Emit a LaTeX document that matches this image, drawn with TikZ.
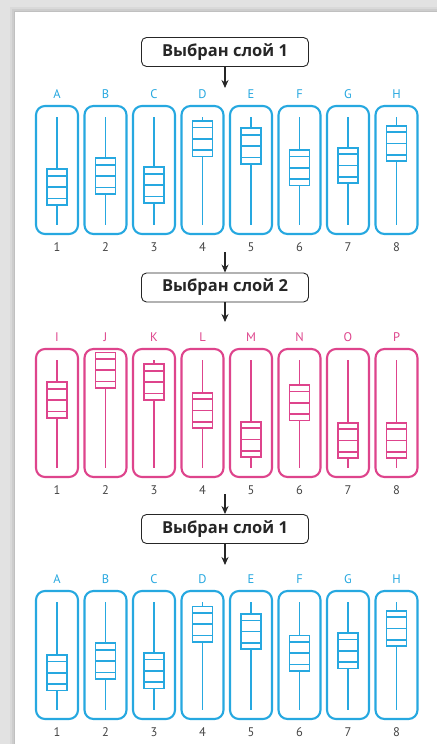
\documentclass[tikz,border=0pt]{standalone}
\usepackage{fontspec}
\setmainfont{Open Sans}
\newfontfamily\lblfont{PT Sans}
\usetikzlibrary{arrows.meta}
\definecolor{fblue}{RGB}{38,168,224}
\definecolor{fpink}{RGB}{222,68,140}
\definecolor{numgray}{RGB}{70,70,70}
\definecolor{bggray}{RGB}{226,226,226}
\tikzset{
  faderbox/.style={draw, rounded corners=9pt, minimum width=42pt, minimum height=128pt, line width=2.1pt, inner sep=0pt},
  track/.style={line width=1.7pt},
  knob/.style={line width=1.7pt, fill=white},
  knobline/.style={line width=1.6pt},
  lettertext/.style={font=\lblfont\fontsize{12.5}{14}\selectfont, inner sep=0pt},
  numtext/.style={font=\lblfont\fontsize{12.5}{14}\selectfont, text=numgray, inner sep=0pt},
  labelbox/.style={draw=black!85, fill=white, rounded corners=5pt, minimum width=167pt, minimum height=29pt, line width=0.9pt, inner sep=0pt, font=\bfseries\fontsize{16.5}{19}\selectfont, text=black!85},
  arr/.style={-{Stealth[length=8pt,width=7pt]}, line width=1.1pt, black!85}
}
% #1 colour, #2 centre x, #3 box top, #4 knob top (relative), #5 letter, #6 number, #7 name
\newcommand\myfader[7]{%
  \node[faderbox, draw=#1] (#7) at (#2,#3+64) {};
  \draw[draw=#1, track] (#2,#3+11) -- (#2,#3+119);
  \draw[draw=#1, knob] (#2-10,#3+#4) rectangle (#2+10,#3+#4+35.5);
  \draw[draw=#1, knobline] (#2-10,#3+#4+6.5) -- (#2+10,#3+#4+6.5);
  \draw[draw=#1, knobline] (#2-10,#3+#4+17.75) -- (#2+10,#3+#4+17.75);
  \draw[draw=#1, knobline] (#2-10,#3+#4+29) -- (#2+10,#3+#4+29);
  \node[lettertext, text=#1] (#7l) at (#2,#3-12) {#5};
  \node[numtext] (#7n) at (#2,#3+141) {#6};
}
\begin{document}
\begin{tikzpicture}[x=1pt,y=-1pt]
\useasboundingbox (0,0) rectangle (437,744);
\fill[bggray] (0,0) rectangle (437,744);
\fill[black, opacity=0.04] (10,7) rectangle (437,744);
\fill[black, opacity=0.05] (12,9) rectangle (437,744);
\fill[black, opacity=0.06] (14,11) rectangle (437,744);
\fill[white] (15,12) rectangle (437,744);

% Layer 1
\foreach \i/\k/\L [evaluate=\i as \cx using 57+48.5*(\i-1)] in {1/63.3/A, 2/52.3/B, 3/61.3/C, 4/15/D, 5/22.3/E, 6/44/F, 7/41.7/G, 8/19.7/H}
  {\myfader{fblue}{\cx}{106}{\k}{\L}{\i}{fa\i}}
% Layer 2
\foreach \i/\k/\L [evaluate=\i as \cx using 57+48.5*(\i-1)] in {1/33.3/I, 2/3.5/J, 3/15.3/K, 4/43.7/L, 5/72.7/M, 6/36/N, 7/73.7/O, 8/73.7/P}
  {\myfader{fpink}{\cx}{349}{\k}{\L}{\i}{fb\i}}
% Layer 3
\foreach \i/\k/\L [evaluate=\i as \cx using 57+48.5*(\i-1)] in {1/64/A, 2/52.3/B, 3/62/C, 4/15.5/D, 5/22.8/E, 6/44.5/F, 7/42/G, 8/19.7/H}
  {\myfader{fblue}{\cx}{591}{\k}{\L}{\i}{fc\i}}

% Labels
\node[labelbox] (s1) at (225,52) {Выбран слой 1};
\node[labelbox] (s2) at (225,287.5) {Выбран слой 2};
\node[labelbox] (s3) at (225,529) {Выбран слой 1};

\coordinate (t1) at (225,88);
\coordinate (u2) at (225,252);
\coordinate (t2) at (225,322);
\coordinate (u3) at (225,494);
\coordinate (t3) at (225,565);

\draw[arr] (s1.south) -- (t1);
\draw[arr] (u2) -- (s2.north);
\draw[arr] (s2.south) -- (t2);
\draw[arr] (u3) -- (s3.north);
\draw[arr] (s3.south) -- (t3);
\end{tikzpicture}
\end{document}
